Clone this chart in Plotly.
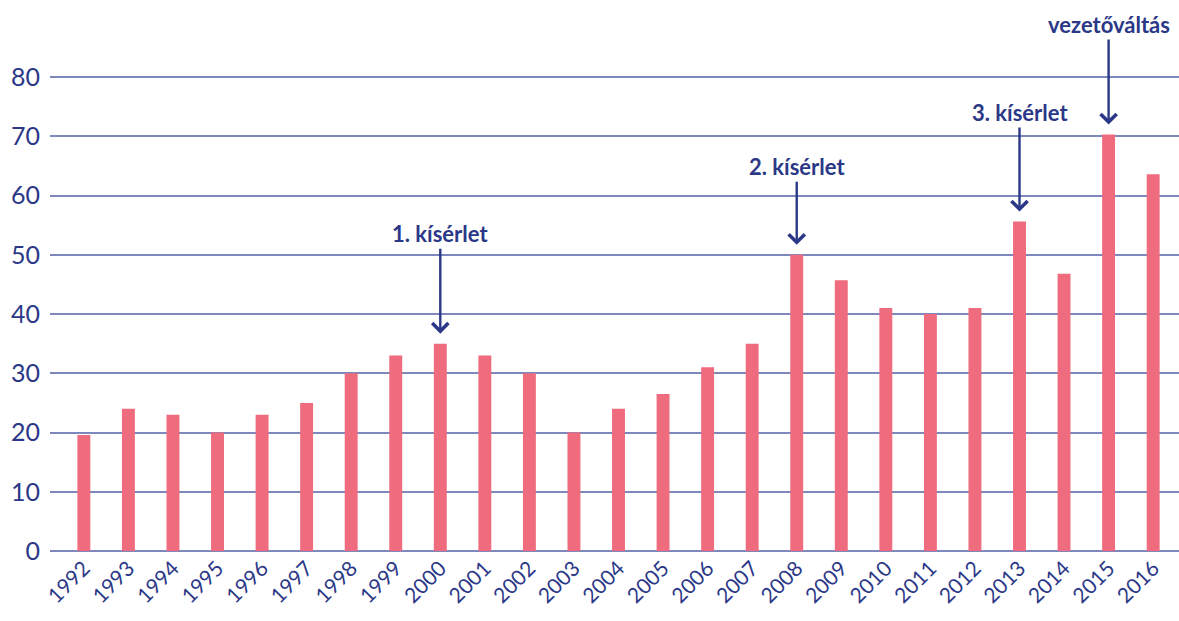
import plotly.graph_objects as go

years = [str(y) for y in range(1992, 2017)]
values = [19.6, 24, 23, 20, 23, 25, 30, 33, 35, 33, 30, 20, 24, 26.5, 31, 35,
          50, 45.7, 41, 40, 41, 55.6, 46.8, 70.3, 63.6]

notes_year = ["2000", "2008", "2013", "2015"]
notes_text = ["1. kísérlet", "2. kísérlet", "3. kísérlet", "vezetőváltás"]
notes_ay = [-110, -88, -109, -110]

navy = "#2B3887"
pink = "#EE6C7D"
grid = "#7F88BC"

fig = go.Figure()
fig.add_trace(go.Bar(x=years, y=values, marker_color=pink, marker_line_width=0))

for yr, txt, ay in zip(notes_year, notes_text, notes_ay):
    idx = years.index(yr)
    fig.add_annotation(
        x=idx, y=values[idx], text="<b>%s</b>" % txt,
        showarrow=True, arrowhead=4, arrowsize=1.3, arrowwidth=2.4,
        arrowcolor=navy, ax=0, ay=ay, standoff=10,
        font=dict(family="Lato", size=22, color=navy),
    )

fig.update_layout(
    width=1179, height=621,
    margin=dict(l=50, r=0, t=0, b=70),
    plot_bgcolor="white", paper_bgcolor="white",
    bargap=0.71, showlegend=False,
    font=dict(family="Lato", color=navy),
    xaxis=dict(type="category", range=[-0.76, 24.58], tickangle=-45,
               tickfont=dict(size=21, color=navy), showgrid=False,
               ticks="", showline=False, zeroline=False),
    yaxis=dict(range=[0, 93], tickvals=[0, 10, 20, 30, 40, 50, 60, 70, 80],
               tickfont=dict(size=25, color=navy), showgrid=True,
               gridcolor=grid, gridwidth=2, zeroline=True, zerolinecolor=grid,
               zerolinewidth=2, ticklabelstandoff=9, showline=False),
)

fig.write_html("out.html")
